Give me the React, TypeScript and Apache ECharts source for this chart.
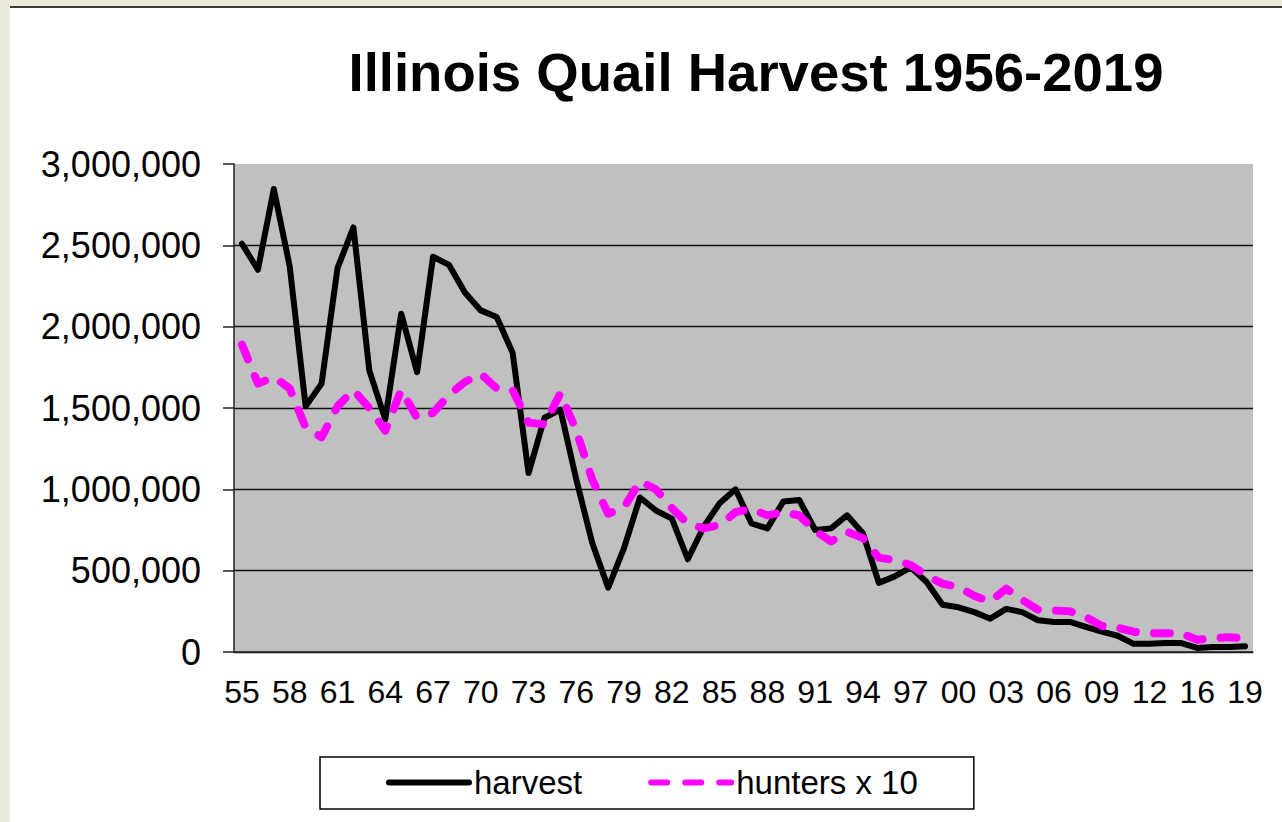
import React, { useEffect, useRef } from "react";
import * as echarts from "echarts";

const years: string[] = [
  "55","56","57","58","59","60","61","62","63","64","65","66","67","68","69","70",
  "71","72","73","74","75","76","77","78","79","80","81","82","83","84","85","86",
  "87","88","89","90","91","92","93","94","95","96","97","98","99","00","01","02",
  "03","04","05","06","07","08","09","10","11","12","13","15","16","17","18","19",
];

const harvest: number[] = [
  2510000, 2350000, 2846000, 2370000, 1510000, 1650000, 2360000, 2610000,
  1730000, 1430000, 2080000, 1720000, 2430000, 2380000, 2210000, 2100000,
  2060000, 1840000, 1100000, 1440000, 1490000, 1060000, 670000, 395000,
  640000, 950000, 870000, 820000, 570000, 770000, 915000, 1000000,
  790000, 760000, 925000, 935000, 750000, 760000, 840000, 730000,
  425000, 465000, 520000, 430000, 290000, 275000, 245000, 205000,
  265000, 245000, 195000, 185000, 185000, 155000, 125000, 100000,
  50000, 50000, 55000, 55000, 25000, 30000, 30000, 35000,
];

const huntersX10: number[] = [
  1890000, 1650000, 1690000, 1620000, 1380000, 1320000, 1510000, 1610000,
  1500000, 1360000, 1610000, 1440000, 1470000, 1580000, 1660000, 1710000,
  1620000, 1610000, 1410000, 1400000, 1590000, 1360000, 1060000, 850000,
  890000, 1050000, 1000000, 885000, 790000, 760000, 780000, 860000,
  880000, 840000, 860000, 840000, 745000, 680000, 740000, 700000,
  580000, 565000, 535000, 470000, 420000, 400000, 345000, 310000,
  390000, 320000, 260000, 255000, 250000, 215000, 160000, 150000,
  125000, 115000, 115000, 115000, 75000, 85000, 90000, 85000,
];

const titleText = "Illinois Quail Harvest 1956-2019";
const seriesNames = ["harvest", "hunters x 10"];
const FONT = "'Liberation Sans', Arial, sans-serif";

export default function App() {
  const ref = useRef<HTMLDivElement>(null);

  useEffect(() => {
    if (!ref.current) return;
    const chart = echarts.init(ref.current, undefined, { renderer: "svg" });
    chart.setOption({
      animation: false,
      backgroundColor: "#ffffff",
      textStyle: { fontFamily: FONT },
      title: {
        text: titleText,
        left: 751,
        textAlign: "center",
        top: 40,
        textStyle: { fontFamily: FONT, fontSize: 54.5, fontWeight: "bold", color: "#000" },
      },
      graphic: [
        { type: "rect", shape: { x: 0, y: 0, width: 10, height: 822 }, style: { fill: "#ECE9D8" }, silent: true },
        { type: "rect", shape: { x: 0, y: 0, width: 1282, height: 6 }, style: { fill: "#ECE9D8" }, silent: true },
        { type: "rect", shape: { x: 10, y: 6, width: 1272, height: 2 }, style: { fill: "#3a3a3a" }, silent: true },
      ],
      legend: {
        left: 320,
        top: 757,
        padding: [9, 56, 10, 66],
        itemWidth: 80,
        itemHeight: 16,
        itemGap: 66,
        borderColor: "#000",
        borderWidth: 1.5,
        itemStyle: { opacity: 0, borderWidth: 0 },
        lineStyle: { width: 6 },
        textStyle: { fontFamily: FONT, fontSize: 33, color: "#000" },
        data: seriesNames,
      },
      grid: { left: 234, right: 29, top: 164, bottom: 170, backgroundColor: "#C0C0C0", show: true, borderWidth: 0 },
      xAxis: {
        type: "category",
        data: years,
        boundaryGap: true,
        axisLine: { lineStyle: { color: "#222", width: 1.5 } },
        axisTick: { show: false },
        axisLabel: { interval: 2, color: "#000", fontSize: 32, fontFamily: FONT, margin: 24 },
      },
      yAxis: {
        type: "value",
        min: 0,
        max: 3000000,
        interval: 500000,
        axisLine: { show: true, lineStyle: { color: "#222", width: 1.5 } },
        axisTick: { show: true, length: 11, lineStyle: { color: "#222", width: 1.5 } },
        axisLabel: {
          color: "#000",
          fontSize: 36,
          fontFamily: FONT,
          margin: 33,
          formatter: (v: number) => v.toLocaleString("en-US"),
        },
        splitLine: { show: true, showMaxLine: false, lineStyle: { color: "#111", width: 1.3 } },
      },
      series: [
        {
          name: seriesNames[0],
          type: "line",
          data: harvest,
          symbol: "none",
          lineStyle: { color: "#000", width: 6, join: "round", cap: "round" },
          itemStyle: { color: "#000" },
          z: 3,
        },
        {
          name: seriesNames[1],
          type: "line",
          data: huntersX10,
          symbol: "none",
          lineStyle: { color: "#FF00FF", width: 8, type: [16, 18], cap: "round", join: "round" },
          itemStyle: { color: "#FF00FF" },
          z: 4,
        },
      ],
    });
    return () => chart.dispose();
  }, []);

  return (
    <div
      ref={ref}
      style={{ position: "fixed", left: 0, top: 0, width: 1282, height: 822 }}
    />
  );
}
